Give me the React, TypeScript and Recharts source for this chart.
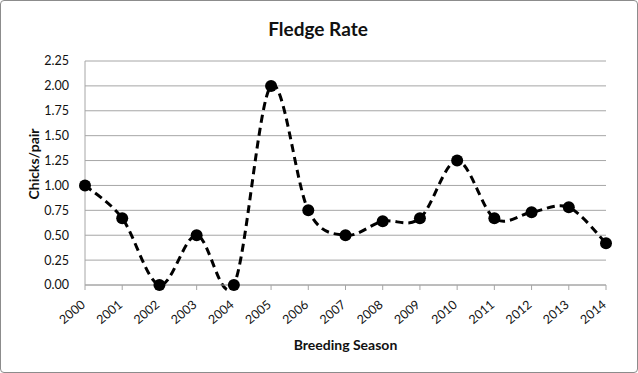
import * as React from "react"
import { CartesianGrid, Line, LineChart, XAxis, YAxis } from "recharts"

// Breeding seasons and fledge rate (chicks per pair)
const seasons = ["2000", "2001", "2002", "2003", "2004", "2005", "2006", "2007", "2008", "2009", "2010", "2011", "2012", "2013", "2014"]
const fledgeRate = [1.0, 0.67, 0.0, 0.5, 0.0, 2.0, 0.75, 0.5, 0.64, 0.67, 1.25, 0.67, 0.73, 0.78, 0.42]
const yTicks = [0, 0.25, 0.5, 0.75, 1.0, 1.25, 1.5, 1.75, 2.0, 2.25]

const data = seasons.map((season, i) => ({ season, rate: fledgeRate[i] }))

const FONT = "Lato, 'Open Sans', sans-serif"
const GRID = "#a6a6a6"

// Excel-style smoothed line: cubic bezier with control points at 1/6 of neighbour span
const excelSmooth = (context: any) => {
  let xs: number[] = []
  let ys: number[] = []
  return {
    areaStart() {},
    areaEnd() {},
    lineStart() {
      xs = []
      ys = []
    },
    lineEnd() {
      const n = xs.length
      if (!n) return
      context.moveTo(xs[0], ys[0])
      for (let i = 0; i < n - 1; i++) {
        const p0 = i > 0 ? i - 1 : i
        const p3 = i + 2 < n ? i + 2 : i + 1
        const c1x = xs[i] + (xs[i + 1] - xs[p0]) / 6
        const c1y = ys[i] + (ys[i + 1] - ys[p0]) / 6
        const c2x = xs[i + 1] - (xs[p3] - xs[i]) / 6
        const c2y = ys[i + 1] - (ys[p3] - ys[i]) / 6
        context.bezierCurveTo(c1x, c1y, c2x, c2y, xs[i + 1], ys[i + 1])
      }
    },
    point(x: number, y: number) {
      xs.push(+x)
      ys.push(+y)
    },
  }
}

const SeasonTick = ({ x, y, payload }: any) => {
  const ax = x + 1
  const ay = y + 14
  return (
    <text
      x={ax}
      y={ay}
      transform={`rotate(-40 ${ax} ${ay})`}
      textAnchor="end"
      fontSize={12.5}
      fontFamily={FONT}
      fill="#111"
    >
      {payload.value}
    </text>
  )
}

const YTitle = ({ viewBox }: any) => {
  const cx = 33
  const cy = viewBox.y + viewBox.height / 2 - 9
  return (
    <text
      x={cx}
      y={cy}
      transform={`rotate(-90 ${cx} ${cy})`}
      textAnchor="middle"
      dominantBaseline="central"
      fontFamily={FONT}
      fontWeight="bold"
      fontSize={14}
      fill="#111"
    >
      Chicks/pair
    </text>
  )
}

export default function App() {
  return (
    <div style={{ position: "fixed", left: 0, top: 0, width: 638, height: 373, background: "#fff" }}>
      <div
        style={{
          position: "absolute",
          left: 0,
          top: 0,
          width: 638,
          height: 373,
          boxSizing: "border-box",
          border: "1px solid #8c8c8c",
          borderRadius: 4,
          pointerEvents: "none",
        }}
      />
      <div
        style={{
          position: "absolute",
          left: 0,
          width: 636,
          top: 17,
          textAlign: "center",
          fontFamily: FONT,
          fontWeight: "bold",
          fontSize: 19,
          color: "#111",
        }}
      >
        Fledge Rate
      </div>
      <LineChart width={638} height={373} data={data} margin={{ top: 61, right: 32, left: 0, bottom: 0 }}>
        <CartesianGrid vertical={false} stroke={GRID} strokeWidth={1} />
        <XAxis
          dataKey="season"
          height={88}
          interval={0}
          padding={{ left: 0, right: 0 }}
          tick={<SeasonTick />}
          tickLine={{ stroke: GRID }}
          tickSize={5}
          axisLine={{ stroke: GRID }}
          label={{
            value: "Breeding Season",
            position: "insideBottom",
            offset: 23,
            style: { fontFamily: FONT, fontWeight: "bold", fontSize: 14, fill: "#111" },
          }}
        />
        <YAxis
          width={85}
          domain={[0, 2.25]}
          ticks={yTicks}
          interval={0}
          tickFormatter={(v: number) => v.toFixed(2)}
          tick={{ fontSize: 12.5, fontFamily: FONT, fill: "#111" }}
          tickLine={false}
          tickMargin={10}
          axisLine={{ stroke: GRID }}
          label={<YTitle />}
        />
        <Line
          dataKey="rate"
          type={excelSmooth as any}
          stroke="#000"
          strokeWidth={3}
          strokeDasharray="8 5"
          dot={{ r: 6, fill: "#000", stroke: "#000", strokeWidth: 0, strokeDasharray: "" }}
          activeDot={false}
          isAnimationActive={false}
        />
      </LineChart>
    </div>
  )
}
